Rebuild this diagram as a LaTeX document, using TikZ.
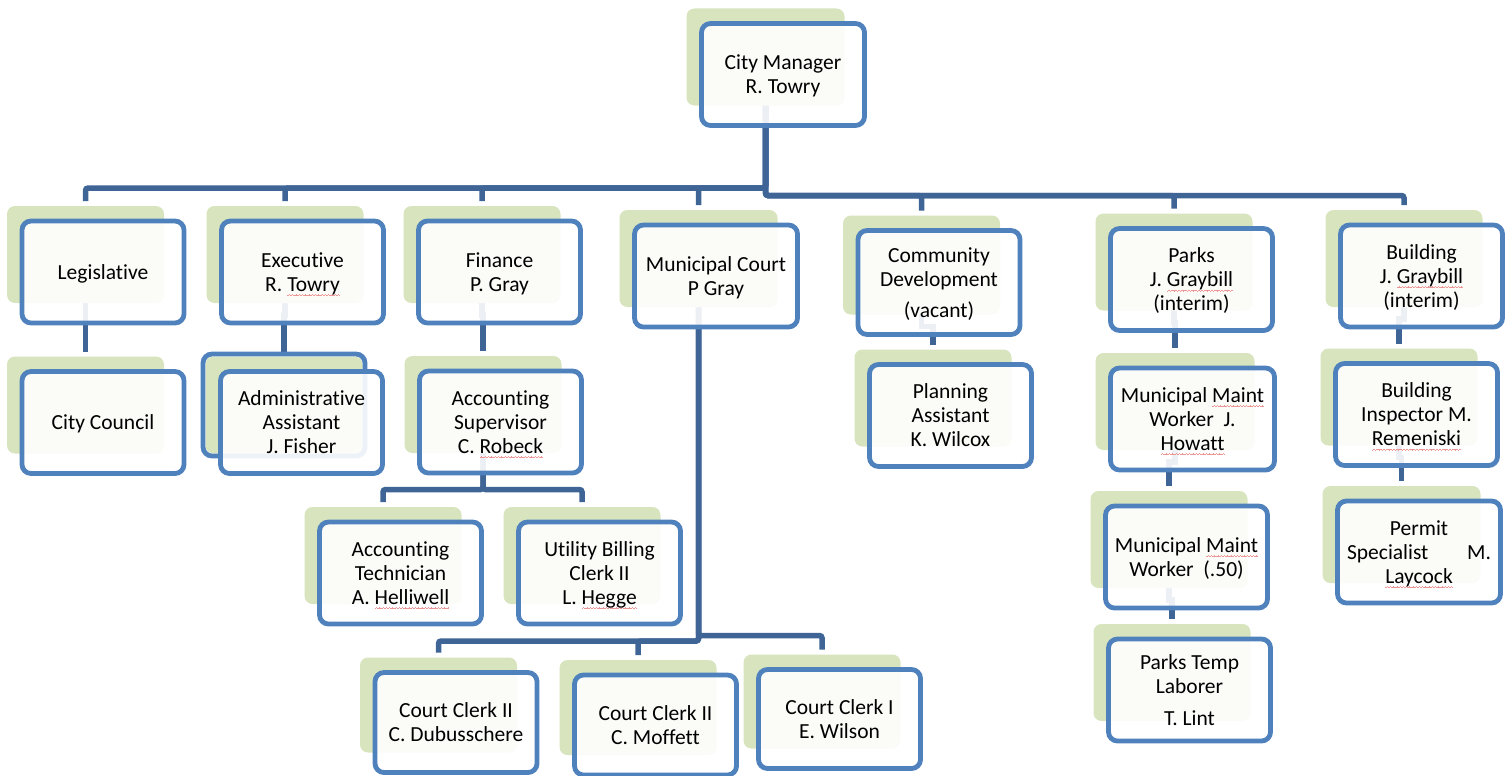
\documentclass[tikz,border=0pt]{standalone}
\usepackage{fontspec}
\setmainfont{Carlito}[Ligatures={NoCommon}]
\usetikzlibrary{calc,fit}

\definecolor{boxblue}{RGB}{79,129,189}
\definecolor{shadegreen}{RGB}{215,228,189}
\definecolor{linkblue}{RGB}{63,101,150}
\definecolor{spellred}{RGB}{238,150,150}

% wavy spell-check underline under a word
\newsavebox\squigbox
\newcommand\squig[1]{\sbox\squigbox{#1}\leavevmode
  \rlap{\textcolor{spellred}{\hbox to \wd\squigbox{\xleaders\hbox{%
    \rule[-5pt]{0.8pt}{0.7pt}\rule[-4.5pt]{0.8pt}{0.7pt}%
    \rule[-4pt]{0.8pt}{0.7pt}\rule[-4.5pt]{0.8pt}{0.7pt}}\hfil}}}%
  \usebox\squigbox}

\pgfdeclarelayer{links}
\pgfdeclarelayer{shades}
\pgfsetlayers{links,shades,main}

\tikzset{
  card/.style={draw=boxblue, line width=4.8pt, rounded corners=9pt,
    fill=white, fill opacity=0.9, text opacity=1, outer sep=0pt,
    minimum width=162pt, minimum height=102pt, inner sep=0pt, align=center,
    font=\fontsize{21.5}{24}\selectfont},
  shade/.style={fill=shadegreen, rounded corners=8pt, inner sep=0pt, outer sep=0pt},
  backcard/.style={draw=boxblue, line width=4.8pt, rounded corners=9pt, inner sep=2.5pt},
  link/.style={draw=linkblue, line width=5.5pt, rounded corners=2.5pt},
  droplink/.style={draw=linkblue, line width=5.5pt},
}

% card with its green shade behind, up and to the left;
% struts give every text block the same first-line height and last-line depth
\newcommand\orgbox[5][]{%
  \node[card,#1] (#2) at (#3,#4) {\rule{0pt}{20pt}#5\rule[-6pt]{0pt}{6pt}};
  \begin{pgfonlayer}{shades}
    \node[shade, fit={([shift={(-15pt,15pt)}]#2.north west) ([shift={(-20pt,20pt)}]#2.south east)}] (#2-s) {};
  \end{pgfonlayer}}

% straight-down link from one card to the one below it
\newcommand\down[2]{%
  \begin{pgfonlayer}{links}
    \draw[droplink] (#1-s.center) -- ($(#1-s.center |- #1.south)+(0pt,8pt)$)
      -- ($(#2-s.center |- #1.south)+(0pt,8pt)$) -- ([yshift=5pt]#2-s.north);
  \end{pgfonlayer}}

\begin{document}
\begin{tikzpicture}[x=1pt,y=-1pt]
\useasboundingbox (0,0) rectangle (1512,776);

% top
\orgbox[minimum width=163pt]{cm}{783}{74.5}{City Manager\\R. Towry}

% departments
\orgbox{leg}{103}{272}{Legislative}
\orgbox{exe}{302.5}{272}{Executive\\R. \squig{Towry}}
\orgbox{fin}{499.5}{272}{Finance\\P. Gray}
\orgbox[minimum width=163pt]{mc}{716}{276}{Municipal Court\\P Gray}
\orgbox[minimum height=104pt]{cd}{939}{282.5}{Community\\Development\\[7pt](vacant)}
\orgbox{parks}{1191.5}{279.5}{Parks\\J. \squig{Graybill}\\(interim)}
\orgbox{bld}{1421.5}{276}{Building\\J. \squig{Graybill}\\(interim)}

% second row
\orgbox{cc}{103}{422.5}{City Council}
\orgbox{aa}{301.5}{422.5}{Administrative\\Assistant\\J. Fisher}
\orgbox{as}{500.5}{422}{Accounting\\Supervisor\\C. \squig{Robeck}}
\orgbox{pa}{950.5}{415.5}{Planning\\Assistant\\K. Wilcox}
\orgbox[minimum width=164pt]{mw1}{1192.5}{419}{Municipal \squig{Maint}\\Worker\ \ J.\\\squig{Howatt}}
\orgbox{bi}{1416.5}{414.5}{Building\\Inspector M.\\\squig{Remeniski}}

% third row
\orgbox{at}{400.5}{573}{Accounting\\Technician\\A. \squig{Helliwell}}
\orgbox{ub}{599.5}{573}{Utility Billing\\Clerk II\\L. \squig{Hegge}}
\orgbox{mw2}{1186.5}{557}{Municipal \squig{Maint}\\Worker\ \ (.50)}
\orgbox[minimum width=163pt]{ps}{1419}{552}{Permit\\Specialist\hspace{1.8em}M.\\\squig{Laycock}}

% bottom row
\orgbox{ptl}{1189.5}{690}{Parks Temp\\Laborer\\[8pt]T. Lint}
\orgbox[minimum height=100pt]{cl1}{456}{722.5}{Court Clerk II\\C. Dubusschere}
\orgbox[minimum height=100pt]{cl2}{655.5}{725}{Court Clerk II\\C. Moffett}
\orgbox[minimum height=99pt]{cl3}{839.5}{719}{Court Clerk I\\E. Wilson}

% second outlined card stacked behind the assistant
\begin{pgfonlayer}{shades}
  \node[backcard, fit=(aa-s)] (aa-b) {};
\end{pgfonlayer}

% bus levels
\coordinate (busA) at (0,188);
\coordinate (busB) at (0,195.5);
\coordinate (busF) at (0,489.5);
\coordinate (busC1) at (0,641);
\coordinate (busC2) at (0,635.5);

\begin{pgfonlayer}{links}
  \foreach \c in {leg,exe,fin,mc}
    \draw[link] (cm-s.center) -- (cm-s.center |- busA) -| ([yshift=5pt]\c-s.north);
  \foreach \c in {cd,parks,bld}
    \draw[link] (cm-s.center) -- (cm-s.center |- busB) -| ([yshift=5pt]\c-s.north);
  \foreach \c in {at,ub}
    \draw[link] (as-s.center) -- (as-s.center |- busF) -| ([yshift=5pt]\c-s.north);
  \foreach \c in {cl1,cl2}
    \draw[link] (mc-s.center) -- (mc-s.center |- busC1) -| ([yshift=5pt]\c-s.north);
  \draw[link] (mc-s.center) -- (mc-s.center |- busC2) -| ([yshift=5pt]cl3-s.north);
\end{pgfonlayer}

\down{leg}{cc}
\down{exe}{aa}
\down{fin}{as}
\down{cd}{pa}
\down{parks}{mw1}
\down{mw1}{mw2}
\down{mw2}{ptl}
\down{bld}{bi}
\down{bi}{ps}

\end{tikzpicture}
\end{document}
